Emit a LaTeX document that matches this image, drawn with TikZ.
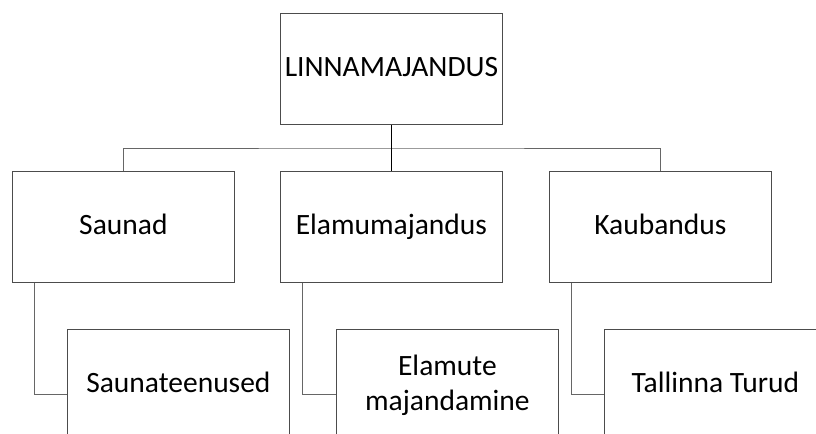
\documentclass[tikz,border=0pt]{standalone}
\usepackage{fontspec}
\setmainfont{Carlito}
\begin{document}
\begin{tikzpicture}[x=1bp,y=-1bp,
  box/.style={draw=black!70, line width=0.8bp, rectangle, anchor=north west,
    minimum width=222bp, minimum height=111bp, inner sep=0pt, align=center,
    font=\fontsize{29.5bp}{35bp}\selectfont, text=black},
  oneline/.style={text height=21bp, text depth=5.5bp},
  conn/.style={draw=black!60, line width=0.8bp},
  rootconn/.style={draw=black, line width=0.8bp}]
\clip (0,0) rectangle (816,434);
\fill[white] (0,0) rectangle (816,434);
\node[box,oneline] (root) at (280,13) {LINNAMAJANDUS};
\node[box,oneline] (saunad) at (12,171) {Saunad};
\node[box,oneline] (elamu) at (280,171) {Elamumajandus};
\node[box,oneline] (kaub) at (549,171) {Kaubandus};
\node[box,oneline] (saunat) at (67,329) {Saunateenused};
\node[box] (elamute) at (336,329) {Elamute\\majandamine};
\node[box,oneline] (turud) at (604,329) {Tallinna Turud};
\coordinate (bus) at (391,148);
\draw[conn] (saunad.north) |- (bus) -| (kaub.north);
\draw[rootconn] (root.south) -- (elamu.north);
\draw[conn] ([xshift=22bp]saunad.south west) |- ([yshift=-9.5bp]saunat.west);
\draw[conn] ([xshift=22bp]elamu.south west) |- ([yshift=-9.5bp]elamute.west);
\draw[conn] ([xshift=22bp]kaub.south west) |- ([yshift=-9.5bp]turud.west);
\end{tikzpicture}
\end{document}
